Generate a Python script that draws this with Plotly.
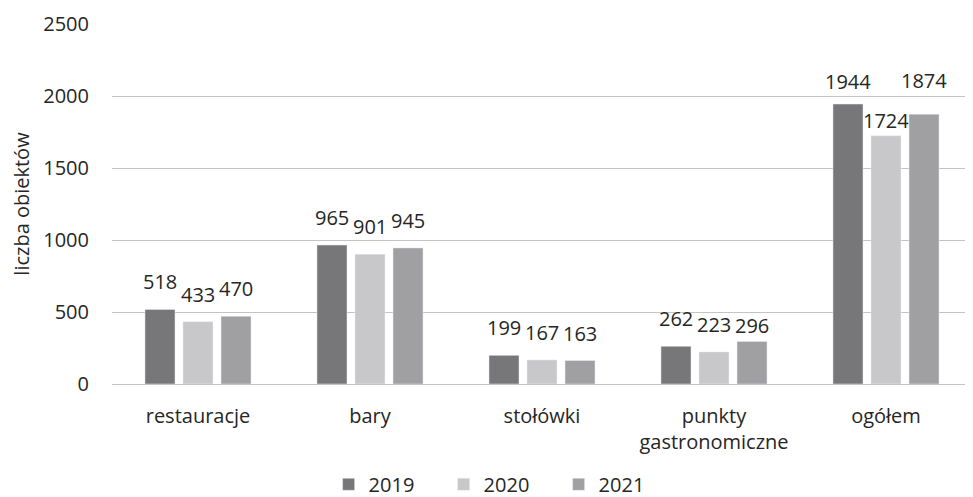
import plotly.graph_objects as go

categories = ["restauracje", "bary", "stołówki", "punkty<br>gastronomiczne", "ogółem"]
years = ["2019", "2020", "2021"]
v2019 = [518, 965, 199, 262, 1944]
v2020 = [433, 901, 167, 223, 1724]
v2021 = [470, 945, 163, 296, 1874]
colors = ["#77777a", "#c8c8ca", "#a0a0a3"]

FONT = "Open Sans"
FS = 20
TXT = "#262626"
BARGAP = 0.337
GROUPGAP = 0.21
LABEL_SHIFT = 12
# per-label vertical nudges (px) mimicking the original label placement: (series, category) -> px
LABEL_NUDGE = {(1, 4): -12, (2, 3): -12, (0, 4): -5, (2, 4): 6}

fig = go.Figure()
series = [v2019, v2020, v2021]
for name, vals, col in zip(years, series, colors):
    fig.add_trace(go.Bar(name=name, x=categories, y=vals, marker_color=col))

n = len(series)
slot = (1 - BARGAP) / n
annotations = []
for i, vals in enumerate(series):
    for ci, v in enumerate(vals):
        annotations.append(dict(
            x=ci + (i - (n - 1) / 2) * slot, y=v, xref="x", yref="y",
            text=str(v), showarrow=False, yanchor="bottom",
            yshift=LABEL_SHIFT + LABEL_NUDGE.get((i, ci), 0),
            font=dict(size=FS, color=TXT, family=FONT),
        ))

fig.update_layout(
    width=965, height=489,
    margin=dict(l=104, r=1, t=16, b=113, autoexpand=False),
    paper_bgcolor="white", plot_bgcolor="white",
    barmode="group", bargap=BARGAP, bargroupgap=GROUPGAP,
    font=dict(family=FONT, size=FS, color=TXT),
    showlegend=True,
    annotations=annotations,
    legend=dict(orientation="h", xref="container", x=0.511, xanchor="center",
                yref="container", y=0.026, yanchor="middle",
                font=dict(size=FS, color=TXT), entrywidth=70, itemwidth=30),
    xaxis=dict(showline=False, ticks="", tickfont=dict(size=FS), ticklabelstandoff=18),
    yaxis=dict(range=[0, 2500], dtick=500, showgrid=True, gridcolor="#c4c4c4",
               gridwidth=1, zeroline=True, zerolinecolor="#c4c4c4", zerolinewidth=1,
               showline=False, ticks="", tickfont=dict(size=FS), ticklabelstandoff=22,
               title=dict(text="liczba obiektów", font=dict(size=FS), standoff=18)),
)
fig.write_html("out.html")
